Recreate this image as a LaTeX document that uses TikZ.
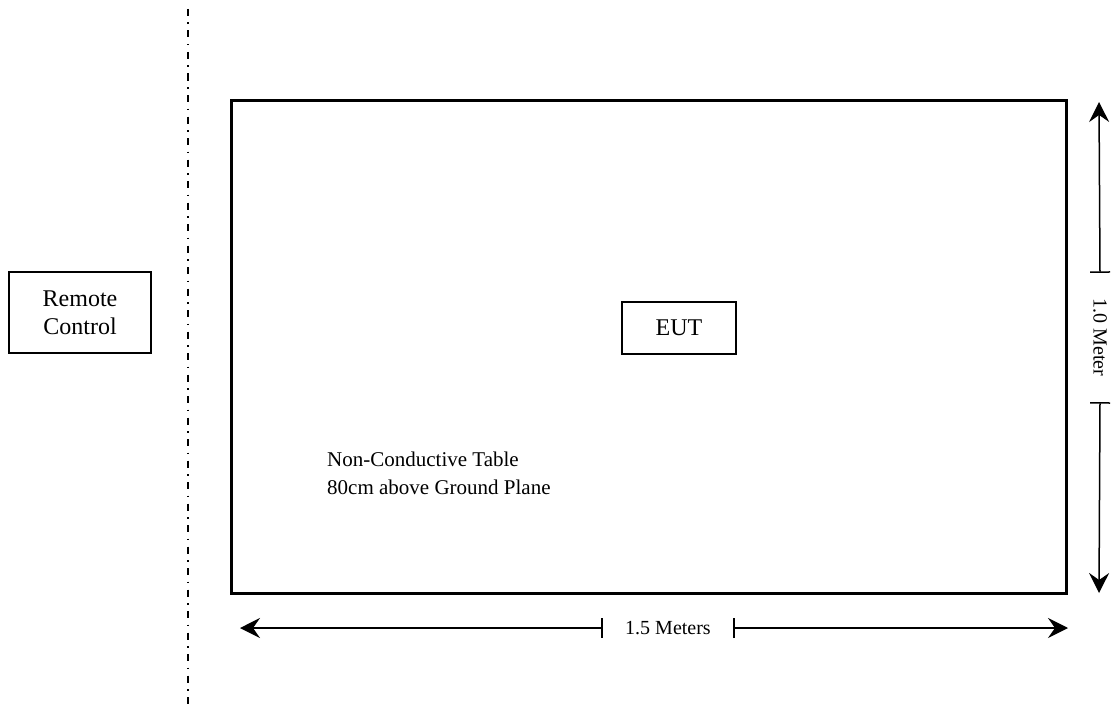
\documentclass[tikz,border=0pt]{standalone}
\usepackage{fontspec}
\setmainfont{Liberation Serif}
\usetikzlibrary{arrows.meta}

\tikzset{
  box/.style={draw=black, line width=1.5pt, shape=rectangle, inner sep=0pt},
  tabletop/.style={draw=black, line width=3pt, shape=rectangle, inner sep=0pt},
  dimtext/.style={draw=none, shape=rectangle, inner sep=0pt, font=\fontsize{20}{23}\selectfont},
  dimline/.style={black, line width=1.5pt,
    {Bar[width=20pt]}-{Stealth[length=20pt,width=20pt,inset=7pt]}},
  divider/.style={black, line width=1.3pt,
    dash pattern=on 7pt off 6.5pt on 1.5pt off 6.5pt},
}

\begin{document}
\begin{tikzpicture}[x=1pt,y=-1pt]

%% - Fix picture size
%% - --------------------------------------

\useasboundingbox (0,0) rectangle (1111,709);

%% - Draw separating line
%% - --------------------------------------

\coordinate (divtop) at (188,9);
\coordinate (divbot) at (188,709);
\draw[divider] (divtop) -- (divbot);

%% - Draw boxes
%% - --------------------------------------

%% - remote control (outside)
\node[box,minimum width=142pt,minimum height=81pt,align=center,font=\fontsize{24}{28}\selectfont] (remote) at (80,312.5) {Remote\\Control};

%% - table
\node[tabletop,minimum width=835pt,minimum height=493pt] (table) at (649,347) {};

%% - EUT on the table
\node[box,minimum width=114pt,minimum height=52pt,font=\fontsize{24}{28}\selectfont] (eut) at (679,328) {EUT};

%% - Draw Texts
%% - --------------------------------------

\node[draw=none,anchor=north west,align=left,inner sep=0pt,font=\fontsize{21}{28}\selectfont] (tablenote) at (327,452) {Non-Conductive Table\\80cm above Ground Plane};

%% - Draw dimension arrows
%% - --------------------------------------

%% - width 1.5 m
\coordinate (wleft) at (240,628);
\coordinate (wright) at (1068,628);
\node[dimtext,minimum width=130pt] (widthtext) at (668,628) {1.5 Meters};
\draw[dimline] (widthtext.west) -- (wleft);
\draw[dimline] (widthtext.east) -- (wright);

%% - depth 1.0 m
\coordinate (htop) at (1099,102);
\coordinate (hbot) at (1099,593);
\node[dimtext,minimum width=129pt,rotate=-90] (heighttext) at (1100,337.5) {1.0 Meter};
\draw[dimline] (heighttext.west) -- (htop);
\draw[dimline] (heighttext.east) -- (hbot);

\end{tikzpicture}
\end{document}
